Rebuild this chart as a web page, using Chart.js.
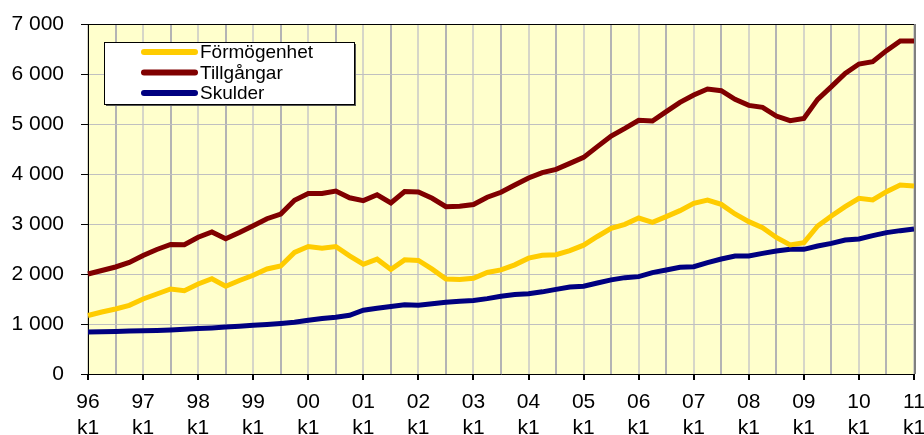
<!DOCTYPE html>
<html lang="sv">
<head>
    <meta charset="UTF-8">
    <title>Förmögenhet, tillgångar och skulder</title>
    <script src="https://cdn.jsdelivr.net/npm/chart.js"></script>
    <style>
        body { margin: 0; padding: 0; background: #fff; }
        .wrap { width: 924px; height: 435px; position: relative; }
    </style>
</head>
<body>
    <div class="wrap"><canvas id="chart"></canvas></div>

    <script>
        // kvartal 96 k1 .. 11 k1
        const years = ['96','97','98','99','00','01','02','03','04','05','06','07','08','09','10','11'];
        const labels = [];
        years.forEach((y, i) => {
            for (let k = 1; k <= 4; k++) {
                if (i === years.length - 1 && k > 1) break;
                labels.push(y + ' k' + k);
            }
        });

        const formogenhet = [
            1170, 1240, 1300, 1373, 1500, 1600, 1700, 1667, 1800, 1905, 1755, 1870, 1975, 2100, 2160, 2433,
            2550, 2515, 2550, 2363, 2195, 2297, 2090, 2283, 2270, 2097, 1900, 1890, 1915, 2030, 2083, 2183,
            2317, 2373, 2387, 2467, 2577, 2750, 2913, 2993, 3120, 3033, 3147, 3267, 3413, 3480, 3393, 3200,
            3047, 2927, 2730, 2580, 2627, 2960, 3160, 3347, 3513, 3480, 3647, 3780, 3760
        ];
        const tillgangar = [
            2000, 2070, 2140, 2230, 2370, 2490, 2590, 2585, 2735, 2840, 2705, 2830, 2965, 3105, 3200, 3475,
            3610, 3610, 3660, 3525, 3467, 3585, 3420, 3650, 3640, 3515, 3345, 3355, 3390, 3535, 3635, 3780,
            3920, 4027, 4093, 4213, 4333, 4547, 4760, 4913, 5075, 5060, 5247, 5433, 5580, 5700, 5667, 5493,
            5373, 5333, 5160, 5067, 5113, 5493, 5747, 6013, 6200, 6247, 6467, 6660, 6660
        ];
        const skulder = [
            840, 845, 850, 858, 865, 872, 880, 893, 910, 922, 940, 955, 975, 990, 1010, 1035,
            1075, 1110, 1135, 1175, 1275, 1315, 1350, 1383, 1375, 1405, 1433, 1457, 1470, 1507, 1555, 1590,
            1605, 1643, 1693, 1740, 1757, 1820, 1883, 1927, 1947, 2027, 2080, 2133, 2147, 2227, 2300, 2360,
            2360, 2413, 2460, 2493, 2493, 2560, 2613, 2680, 2700, 2767, 2827, 2867, 2900
        ];

        const font = 'Arial, "Liberation Sans", sans-serif';

        // gul bakgrund + ram runt diagramytan
        const plotArea = {
            id: 'plotArea',
            beforeDraw(chart) {
                const { ctx, chartArea: a } = chart;
                ctx.save();
                ctx.fillStyle = '#FFFFCC';
                ctx.fillRect(a.left, a.top, a.right - a.left, a.bottom - a.top);
                ctx.restore();
            },
            afterDatasetsDraw(chart) {
                const { ctx, chartArea: a } = chart;
                ctx.save();
                ctx.strokeStyle = '#000';
                ctx.lineWidth = 1;
                ctx.beginPath();
                ctx.moveTo(a.left, a.top + 0.5);
                ctx.lineTo(a.right, a.top + 0.5);
                ctx.stroke();
                ctx.strokeStyle = '#808080';
                ctx.lineWidth = 2;
                ctx.beginPath();
                ctx.moveTo(a.right + 1, a.top);
                ctx.lineTo(a.right + 1, a.bottom);
                ctx.stroke();
                ctx.restore();
            }
        };

        // legend i en vit ruta inne i diagrammet
        const boxLegend = {
            id: 'boxLegend',
            afterDraw(chart) {
                const { ctx, chartArea: a } = chart;
                const x = a.left + 16, y = a.top + 18, w = 250, h = 62;
                ctx.save();
                ctx.fillStyle = '#555';
                ctx.fillRect(x + 2, y + 2, w, h);
                ctx.fillStyle = '#fff';
                ctx.fillRect(x, y, w, h);
                ctx.strokeStyle = '#000';
                ctx.lineWidth = 1;
                ctx.strokeRect(x + 0.5, y + 0.5, w, h);
                ctx.font = '19px ' + font;
                ctx.textBaseline = 'middle';
                chart.data.datasets.forEach((ds, i) => {
                    const ly = y + 10 + i * 20.5;
                    ctx.strokeStyle = ds.borderColor;
                    ctx.lineWidth = 6;
                    ctx.lineCap = 'round';
                    ctx.beginPath();
                    ctx.moveTo(x + 40, ly);
                    ctx.lineTo(x + 91, ly);
                    ctx.stroke();
                    ctx.fillStyle = '#000';
                    ctx.fillText(ds.label, x + 96, ly + 1);
                });
                ctx.restore();
            }
        };

        const line = (label, data, color) => ({
            label, data,
            borderColor: color,
            backgroundColor: color,
            borderWidth: 5,
            pointRadius: 0,
            tension: 0,
            fill: false
        });

        new Chart(document.getElementById('chart'), {
            type: 'line',
            data: {
                labels,
                datasets: [
                    line('Förmögenhet', formogenhet, '#FFCC00'),
                    line('Tillgångar', tillgangar, '#800000'),
                    line('Skulder', skulder, '#000080')
                ]
            },
            options: {
                responsive: true,
                maintainAspectRatio: false,
                animation: false,
                layout: { padding: { top: 24, right: 10, left: 0, bottom: 0 } },
                plugins: { legend: { display: false }, tooltip: { enabled: false } },
                scales: {
                    x: {
                        offset: false,
                        afterFit(s) {
                            s.height = 61;
                            s.paddingLeft = 0; s.paddingRight = 0;
                        },
                        border: { color: '#000', width: 1 },
                        grid: {
                            offset: false,
                            drawTicks: true,
                            tickLength: 6,
                            color: c => c.index % 4 === 2 ? '#B4B4B4' : (c.index % 4 === 0 ? '#D6D6C8' : 'rgba(0,0,0,0)'),
                            tickColor: c => c.index % 4 === 0 ? '#000' : 'rgba(0,0,0,0)',
                            lineWidth: 2
                        },
                        ticks: {
                            autoSkip: false,
                            maxRotation: 0,
                            minRotation: 0,
                            padding: 10,
                            color: '#000',
                            font: { family: font, size: 21, lineHeight: 1.2 },
                            callback: (v, i) => i % 4 === 0 ? labels[i].split(' ') : ''
                        }
                    },
                    y: {
                        min: 0,
                        max: 7000,
                        afterFit(s) {
                            s.width = 88;
                            s.paddingTop = 0; s.paddingBottom = 0;
                        },
                        border: { color: '#000', width: 1 },
                        grid: { color: '#C0C0C0', lineWidth: 1, tickLength: 7, tickColor: '#000' },
                        ticks: {
                            stepSize: 1000,
                            padding: 17,
                            color: '#000',
                            font: { family: font, size: 21 },
                            callback: v => String(v).replace(/\B(?=(\d{3})+(?!\d))/g, ' ')
                        }
                    }
                }
            },
            plugins: [plotArea, boxLegend]
        });
    </script>
</body>
</html>
